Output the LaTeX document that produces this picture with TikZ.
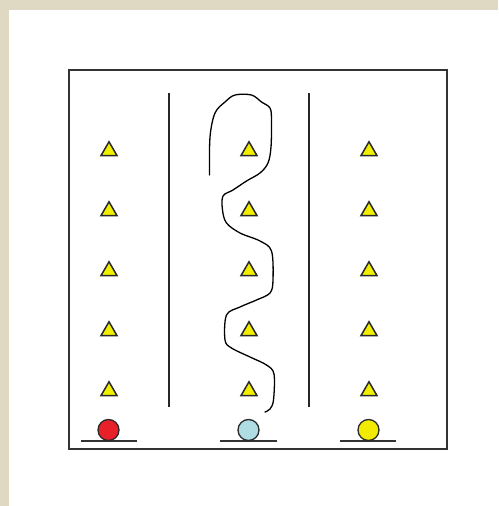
\documentclass[tikz,border=0pt]{standalone}
\usetikzlibrary{shapes.geometric}
\definecolor{beige}{HTML}{DFD9C3}
\definecolor{triyellow}{HTML}{F2EE00}
\definecolor{ballred}{HTML}{E8202A}
\definecolor{ballblue}{HTML}{B0DDE4}
\definecolor{ballyellow}{HTML}{F2EA00}
\definecolor{edgegray}{HTML}{2A2A2A}
\tikzset{
  tri/.style={regular polygon, regular polygon sides=3, draw=edgegray, line width=1.5pt,
    fill=triyellow, inner sep=0pt, minimum size=18.5pt},
  ball/.style={circle, draw=edgegray, line width=1.3pt, inner sep=0pt, minimum size=21pt},
  ground/.style={line width=2.2pt, draw=black!80},
  wall/.style={line width=1.9pt, draw=black!85},
}
\begin{document}
\begin{tikzpicture}[x=1pt,y=-1pt]
\useasboundingbox (0,0) rectangle (498,506);
\fill[beige] (0,0) rectangle (498,506);
\fill[white] (9,10) rectangle (498,506);
% frame
\draw[line width=2pt, draw=black!80] (69,70) rectangle (447,449);
% walls
\coordinate (w1t) at (169,93); \coordinate (w1b) at (169,407);
\coordinate (w2t) at (309,93); \coordinate (w2b) at (309,407);
\draw[wall] (w1t) -- (w1b);
\draw[wall] (w2t) -- (w2b);
% triangles
\foreach \r/\y in {1/151,2/211,3/271,4/331,5/391}{
  \node[tri] (a\r) at (109,\y) {};
  \node[tri] (b\r) at (249,\y) {};
  \node[tri] (c\r) at (369,\y) {};
}
% grounds
\coordinate (g1l) at (81,441); \coordinate (g1r) at (137,441);
\coordinate (g2l) at (220,441); \coordinate (g2r) at (277,441);
\coordinate (g3l) at (340,441); \coordinate (g3r) at (396,441);
\draw[ground] (g1l) -- (g1r);
\draw[ground] (g2l) -- (g2r);
\draw[ground] (g3l) -- (g3r);
% balls
\node[ball, fill=ballred] (redball) at (108.5,430) {};
\node[ball, fill=ballblue] (blueball) at (248.5,430) {};
\node[ball, fill=ballyellow] (yellowball) at (368.5,430) {};
% path
\draw[line width=1.3pt, line join=round, line cap=round] plot[smooth, tension=0.55] coordinates {
 (209.5,175) (210,137) (215,113) (225,102) (235,95) (251.5,95) (261.5,102) (270,108)
 (271.5,120) (271,147) (268,163) (260,173) (246.5,181) (233,190) (223,196)
 (222.5,210) (226.5,223) (240,233) (260,241) (271.5,251) (273,280) (270,293)
 (256.5,300) (240,307) (226.5,315) (225,340) (231.5,348) (250,357) (266.5,365)
 (274,374) (273.5,400) (270,409) (265,412)};
\end{tikzpicture}
\end{document}
